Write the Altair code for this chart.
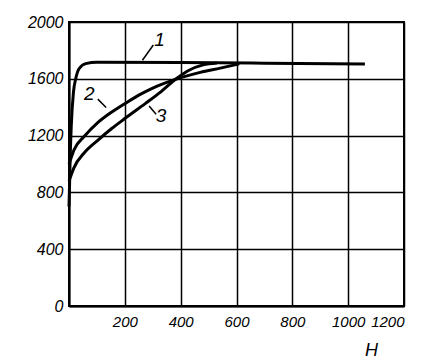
import altair as alt
import pandas as pd

# Curve data (H, B)
H1 = [0, 2, 4, 8, 16, 24, 36, 60, 100, 400, 700, 1060]
B1 = [700, 850, 1030, 1265, 1507, 1600, 1671, 1707, 1716, 1714, 1710, 1705]

H2 = [0, 6, 18, 55, 102, 152, 200, 250, 300, 384, 470, 542, 610]
B2 = [1000, 1035, 1100, 1195, 1290, 1365, 1425, 1485, 1535, 1598, 1645, 1675, 1705]

H3 = [0, 18, 55, 102, 153, 200, 273, 330, 384, 430, 480, 530]
B3 = [880, 975, 1079, 1165, 1250, 1320, 1425, 1510, 1600, 1660, 1698, 1712]

# Curve labels and leader lines
label_text = ["1", "2", "3"]
label_H = [324, 73, 330]
label_B = [1874, 1493, 1338]
leader_H = [302, 103, 287]
leader_B = [1838, 1457, 1409]
leader_H2 = [263, 133, 312]
leader_B2 = [1731, 1398, 1350]

x_ticks = [0, 200, 400, 600, 800, 1000, 1200]
y_ticks = [0, 400, 800, 1200, 1600, 2000]

FONT = "Liberation Sans"

curves = pd.concat([
    pd.DataFrame({"H": H1, "B": B1, "curve": "1"}),
    pd.DataFrame({"H": H2, "B": B2, "curve": "2"}),
    pd.DataFrame({"H": H3, "B": B3, "curve": "3"}),
])
labels = pd.DataFrame({"t": label_text, "H": label_H, "B": label_B})
leaders = pd.DataFrame({"H": leader_H, "B": leader_B, "H2": leader_H2, "B2": leader_B2})

xscale = alt.Scale(domain=[0, 1200], nice=False)
yscale = alt.Scale(domain=[0, 2000], nice=False)

xaxis = alt.Axis(
    values=x_ticks, grid=True, ticks=False, labelPadding=8, format="d",
    labelOverlap=False, labelFontSize=15,
    labelExpr="datum.value == 0 ? '' : datum.label",
    title="H", titleX=302, titleY=44, titleBaseline="middle", titleAlign="center",
    titleFont=FONT, titleFontSize=18, titleFontStyle="italic", titleFontWeight="normal",
    titleColor="black",
)
yaxis = alt.Axis(values=y_ticks, grid=True, ticks=False, labelPadding=6, format="d",
                 labelOverlap=False, title=None)

base = alt.Chart(curves).mark_line(color="black", strokeWidth=3, interpolate="monotone").encode(
    x=alt.X("H:Q", scale=xscale, axis=xaxis),
    y=alt.Y("B:Q", scale=yscale, axis=yaxis),
    detail="curve:N",
)

lead = alt.Chart(leaders).mark_rule(color="black", strokeWidth=1.5).encode(
    x=alt.X("H:Q", scale=xscale), y=alt.Y("B:Q", scale=yscale),
    x2="H2:Q", y2="B2:Q",
)

txt = alt.Chart(labels).mark_text(
    font=FONT, fontSize=19, fontStyle="italic", color="black", align="center", baseline="middle"
).encode(
    x=alt.X("H:Q", scale=xscale), y=alt.Y("B:Q", scale=yscale), text="t:N",
)

chart = alt.layer(base, lead, txt).properties(
    width=335, height=284,
    background="white",
    autosize=alt.AutoSizeParams(type="none"),
    padding={"left": 61, "top": 14, "right": 30, "bottom": 60},
).configure_view(
    stroke="black", strokeWidth=2,
).configure_axis(
    domainColor="black", domainWidth=2,
    gridColor="black", gridWidth=1.5, gridOpacity=1,
    labelFont=FONT, labelFontSize=16, labelFontStyle="italic", labelColor="black",
)

chart.save("out.html", embed_options={"renderer": "svg", "actions": False})
